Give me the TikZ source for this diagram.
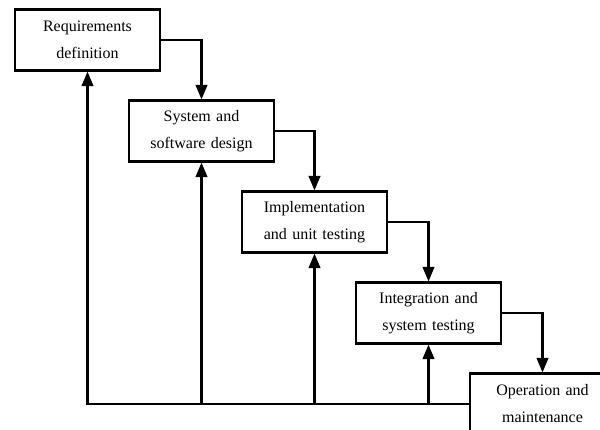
\documentclass[tikz,border=0pt]{standalone}
\usepackage{fontspec}
\setmainfont{Liberation Serif}
\usetikzlibrary{shapes,arrows,positioning}

\begin{document}
\begin{tikzpicture}[x=1pt, y=-1pt, node distance=91pt, auto, >=triangle 45,
    stage/.style={rectangle, draw, line width=2.4pt, minimum width=145pt, minimum height=61pt,
        text width=138pt, text centered, font=\fontsize{16}{27}\selectfont},
    flow/.style={->, line width=2.4pt}]
    \clip (0,0) rectangle (600,430);
    \node[stage] (req) at (87.5,40) {Requirements\\definition};
    \node[stage, below of=req, xshift=114pt] (design) {System and\\software design};
    \node[stage, below of=design, xshift=113pt] (impl) {Implementation\\and unit testing};
    \node[stage, below of=impl, xshift=114pt] (integ) {Integration and\\system testing};
    \node[stage, below of=integ, xshift=114pt] (ops) {Operation and\\maintenance};

    % down the steps
    \draw[flow] (req.east) -| (design.north);
    \draw[flow] (design.east) -| (impl.north);
    \draw[flow] (impl.east) -| (integ.north);
    \draw[flow] (integ.east) -| (ops.north);

    % feedback
    \draw[flow] (ops.west) -| (req.south);
    \draw[flow] (ops.west -| design.south) -- (design.south);
    \draw[flow] (ops.west -| impl.south) -- (impl.south);
    \draw[flow] (ops.west -| integ.south) -- (integ.south);
\end{tikzpicture}
\end{document}
